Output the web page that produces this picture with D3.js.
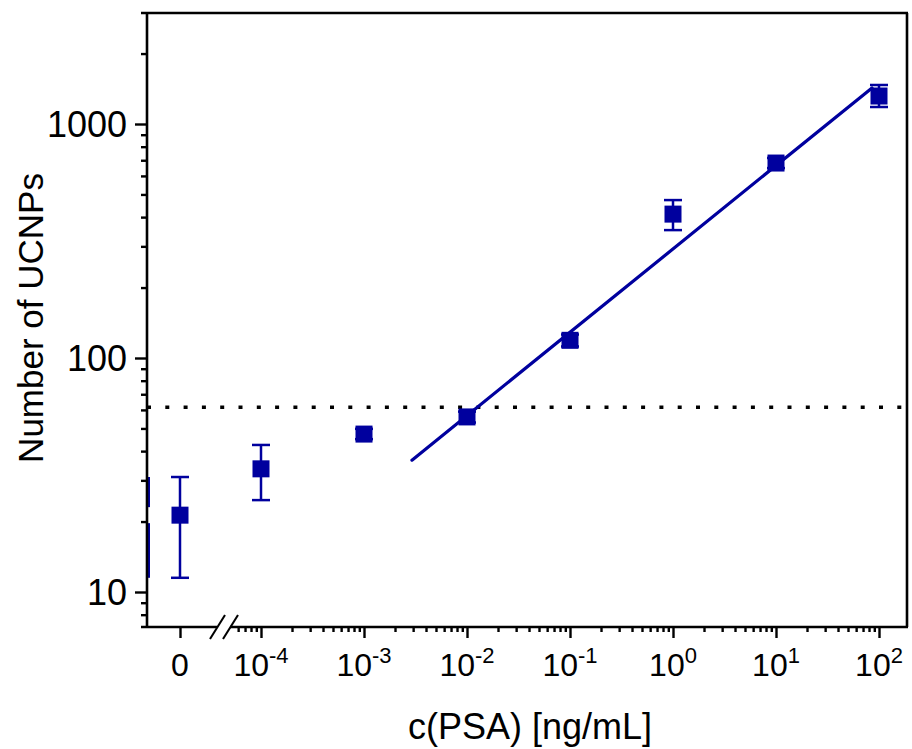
<!DOCTYPE html>
<html>
<head>
<meta charset="utf-8">
<script src="https://cdn.jsdelivr.net/npm/d3@7"></script>
<style>
  html, body { margin: 0; padding: 0; background: #fff; }
  svg { display: block; font-family: Arial, "Liberation Sans", sans-serif; }
</style>
</head>
<body>
<svg id="chart" width="912" height="749"></svg>
<script>
// ---------------- data ----------------
const concentrations = [0, 1e-4, 1e-3, 1e-2, 1e-1, 1, 10, 100];
const counts         = [21.3, 33.6, 47.3, 56, 119, 412, 681, 1317];
const errLow         = [11.5, 24.7, 45.0, 53.0, 112, 352, 648, 1182];
const errHigh        = [31.0, 42.5, 49.8, 59.0, 126, 473, 716, 1468];
const fitX = [0.00292, 85.5];
const fitY = [36.6, 1426];
const thresholdValue = 61.6;
const offAxisLow = 11.5, offAxisHigh = 31.0, offAxisCenter = 21.3;
const yMajorTicks = [10, 100, 1000];
const yMinorTicks = [8, 9, 20, 30, 40, 50, 60, 70, 80, 90, 200, 300, 400, 500, 600, 700, 800, 900, 2000];
const xMajorExps = [-4, -3, -2, -1, 0, 1, 2];
const xMinorTicks = [6e-5, 7e-5, 8e-5, 9e-5];
for (let e = -4; e <= 1; e++) for (let m = 2; m <= 9; m++) xMinorTicks.push(m * Math.pow(10, e));
const zeroLabel = "0";
const xTitle = "c(PSA) [ng/mL]";
const yTitle = "Number of UCNPs";

// ---------------- layout ----------------
const L = 147, R = 907, T = 13, B = 627;
const blue = "#00009e";
const svg = d3.select("#chart");

const y = d3.scaleLog().domain([10, 1000]).range([592, 124]);
const xLog = d3.scaleLog().domain([1e-4, 1e2]).range([261, 879]);
const xZero = d3.scaleLinear().domain([-1, 1]).range([148, 212]);
const xPos = c => c === 0 ? xZero(0) : xLog(c);

// clip
svg.append("clipPath").attr("id", "clip")
  .append("rect").attr("x", L).attr("y", T).attr("width", R - L).attr("height", B - T);
const plot = svg.append("g").attr("clip-path", "url(#clip)");

// threshold dotted line
plot.append("line")
  .attr("x1", L).attr("x2", R)
  .attr("y1", y(thresholdValue)).attr("y2", y(thresholdValue))
  .attr("stroke", "#000").attr("stroke-width", 3.6)
  .attr("stroke-dasharray", "4 14.3");

// off-axis partially clipped bar
const offX = L + 1.8;
plot.append("line").attr("x1", offX).attr("x2", offX)
  .attr("y1", y(offAxisHigh)).attr("y2", y(offAxisCenter) - 8)
  .attr("stroke", blue).attr("stroke-width", 2.4);
plot.append("line").attr("x1", offX).attr("x2", offX)
  .attr("y1", y(offAxisCenter) + 8).attr("y2", y(offAxisLow))
  .attr("stroke", blue).attr("stroke-width", 2.4);

// fit line
plot.append("line")
  .attr("x1", xLog(fitX[0])).attr("y1", y(fitY[0]))
  .attr("x2", xLog(fitX[1])).attr("y2", y(fitY[1]))
  .attr("stroke", blue).attr("stroke-width", 3.2).attr("stroke-linecap", "round");

// error bars + markers
const pts = concentrations.map((c, i) => ({c, v: counts[i], lo: errLow[i], hi: errHigh[i]}));
const g = plot.selectAll("g.pt").data(pts).join("g").attr("class", "pt");
const ms = 17, cap = 9;
g.append("line").attr("x1", d => xPos(d.c)).attr("x2", d => xPos(d.c))
  .attr("y1", d => y(d.hi)).attr("y2", d => y(d.lo))
  .attr("stroke", blue).attr("stroke-width", 2.5);
g.append("line").attr("x1", d => xPos(d.c) - cap).attr("x2", d => xPos(d.c) + cap)
  .attr("y1", d => y(d.hi)).attr("y2", d => y(d.hi))
  .attr("stroke", blue).attr("stroke-width", 2.5);
g.append("line").attr("x1", d => xPos(d.c) - cap).attr("x2", d => xPos(d.c) + cap)
  .attr("y1", d => y(d.lo)).attr("y2", d => y(d.lo))
  .attr("stroke", blue).attr("stroke-width", 2.5);
g.append("rect").attr("x", d => xPos(d.c) - ms / 2).attr("y", d => y(d.v) - ms / 2)
  .attr("width", ms).attr("height", ms).attr("fill", blue);

// ---------------- axes ----------------
const axStroke = 2.6;
const yMaj = svg.append("g").attr("transform", `translate(${L},0)`)
  .call(d3.axisLeft(y).tickValues(yMajorTicks).tickSize(12).tickPadding(8).tickFormat(d3.format("d")));
yMaj.select(".domain").remove();
yMaj.selectAll(".tick line").attr("stroke", "#000").attr("stroke-width", 2.4);
yMaj.selectAll(".tick text").attr("font-size", 36).attr("fill", "#000").attr("dy", "0.36em")
  .attr("font-family", "Arial, 'Liberation Sans', sans-serif");
const yMin = svg.append("g").attr("transform", `translate(${L},0)`)
  .call(d3.axisLeft(y).tickValues(yMinorTicks).tickSize(6).tickFormat(""));
yMin.select(".domain").remove();
yMin.selectAll(".tick line").attr("stroke", "#000").attr("stroke-width", 2.4);

const xMaj = svg.append("g").attr("transform", `translate(0,${B})`)
  .call(d3.axisBottom(xLog).tickValues(xMajorExps.map(e => Math.pow(10, e))).tickSize(11).tickFormat(""));
xMaj.select(".domain").remove();
xMaj.selectAll(".tick line").attr("stroke", "#000").attr("stroke-width", 2.4);
const xMin = svg.append("g").attr("transform", `translate(0,${B})`)
  .call(d3.axisBottom(xLog).tickValues(xMinorTicks).tickSize(5).tickFormat(""));
xMin.select(".domain").remove();
xMin.selectAll(".tick line").attr("stroke", "#000").attr("stroke-width", 2.4);
const xZ = svg.append("g").attr("transform", `translate(0,${B})`)
  .call(d3.axisBottom(xZero).tickValues([0]).tickSize(11).tickFormat(""));
xZ.select(".domain").remove();
xZ.selectAll(".tick line").attr("stroke", "#000").attr("stroke-width", 2.4);

// x tick labels
const lblY = 676;
svg.append("text").attr("x", xZero(0)).attr("y", lblY).attr("text-anchor", "middle")
  .attr("font-size", 32).text(zeroLabel);
xMajorExps.forEach(e => {
  const t = svg.append("text").attr("x", xLog(Math.pow(10, e))).attr("y", lblY)
    .attr("text-anchor", "middle").attr("font-size", 32);
  t.append("tspan").text("10");
  t.append("tspan").attr("font-size", 22).attr("dy", -13).text(e < 0 ? "-" + (-e) : String(e));
});

// frame
const frame = svg.append("g").attr("stroke", "#000").attr("stroke-width", axStroke).attr("fill", "none");
frame.append("line").attr("x1", 141).attr("x2", R + 1).attr("y1", T).attr("y2", T);
frame.append("line").attr("x1", L).attr("x2", L).attr("y1", T).attr("y2", B);
frame.append("line").attr("x1", R).attr("x2", R).attr("y1", T).attr("y2", B);
frame.append("line").attr("x1", 141).attr("x2", 217).attr("y1", B).attr("y2", B);
frame.append("line").attr("x1", 230).attr("x2", R + 1).attr("y1", B).attr("y2", B);
frame.append("line").attr("x1", 210).attr("y1", 639).attr("x2", 225).attr("y2", 615).attr("stroke-width", 2);
frame.append("line").attr("x1", 223).attr("y1", 639).attr("x2", 238).attr("y2", 615).attr("stroke-width", 2);

// titles
svg.append("text").attr("x", 530).attr("y", 739).attr("text-anchor", "middle")
  .attr("font-size", 36).text(xTitle);
svg.append("text").attr("transform", "translate(43,318) rotate(-90)").attr("text-anchor", "middle")
  .attr("font-size", 35).text(yTitle);
</script>
</body>
</html>
